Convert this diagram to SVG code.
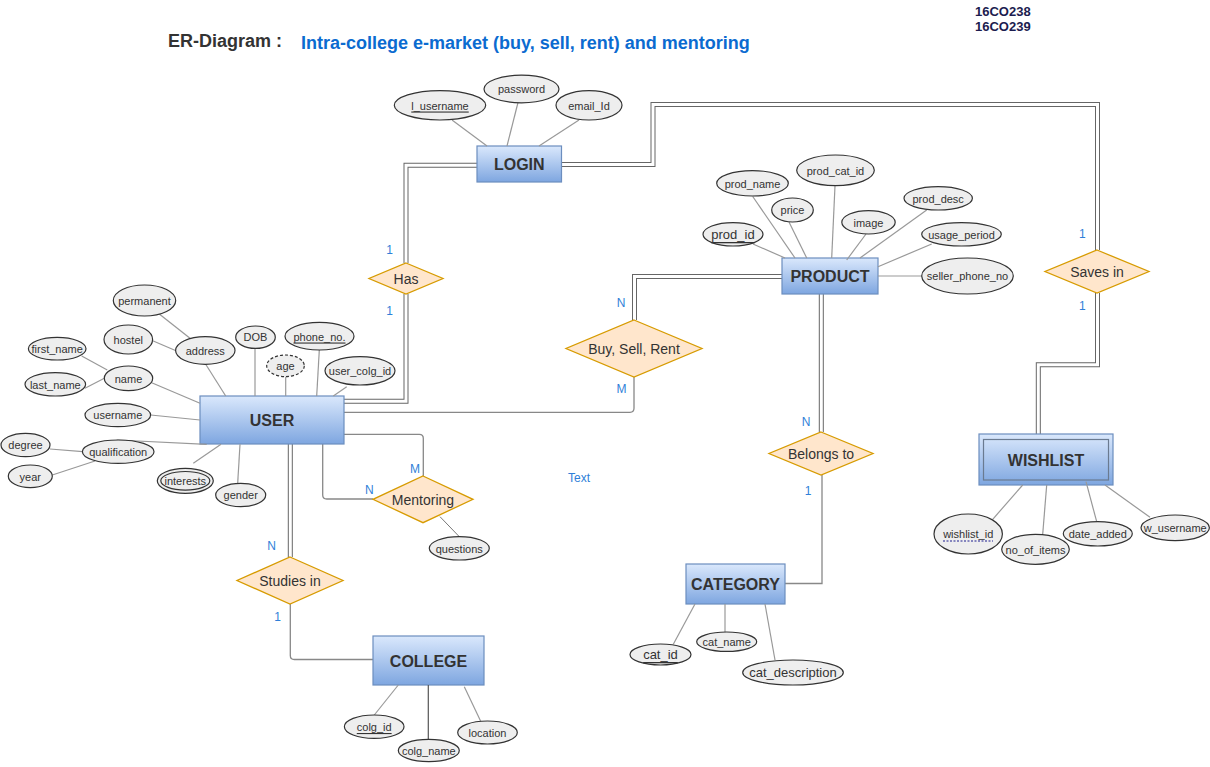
<svg xmlns="http://www.w3.org/2000/svg" width="1210" height="767" viewBox="0 0 1210 767">
<defs>
<linearGradient id="eg" x1="0" y1="0" x2="0" y2="1">
<stop offset="0" stop-color="#dae8fc"/>
<stop offset="1" stop-color="#7ea6e0"/>
</linearGradient>
<style>
text{font-family:"Liberation Sans",Arial,sans-serif;}
.ent rect{fill:url(#eg);stroke:#6c8ebf;stroke-width:1.2;}
.ent text{font-size:16px;font-weight:bold;fill:#333;text-anchor:middle;dominant-baseline:central;}
.rel polygon{fill:#ffe6cc;stroke:#d79b00;stroke-width:1.3;}
.rel text{font-size:14px;fill:#333;text-anchor:middle;dominant-baseline:central;}
.att ellipse{fill:#eeeeee;stroke:#333;stroke-width:1.2;}
.att text{font-size:11px;fill:#333;text-anchor:middle;dominant-baseline:central;}
.att line{stroke:#999;stroke-width:1.2;}
.big{font-size:13px !important;}
.u{text-decoration:underline;}
.c1{fill:none;stroke:#888;stroke-width:1.3;}
.d1{fill:none;stroke:#666;stroke-width:5;}
.d2{fill:none;stroke:#fff;stroke-width:3;}
.lbl{font-size:12px;fill:#2f7fd8;text-anchor:middle;dominant-baseline:central;}
</style>
</defs>
<rect width="1210" height="767" fill="#fff"/>

<g id="title">
<text x="168" y="47" font-size="18" font-weight="bold" fill="#333">ER-Diagram :</text>
<text x="301" y="49" font-size="18" font-weight="bold" fill="#0b6bd0">Intra-college e-market (buy, sell, rent) and mentoring</text>
<text x="975" y="15.5" font-size="13" font-weight="bold" fill="#1c1c4f">16CO238</text>
<text x="975" y="31" font-size="13" font-weight="bold" fill="#1c1c4f">16CO239</text>
</g>

<g id="connectors">
<!-- LOGIN - Has (double) -->
<path class="d1" d="M477,165.3 H406 V263"/>
<path class="d2" d="M477,165.3 H406 V263"/>
<!-- Has - USER (double) -->
<path class="d1" d="M406,294 V401.3 H344"/>
<path class="d2" d="M406,294 V401.3 H344"/>
<!-- USER - Buy,Sell,Rent -->
<path class="c1" d="M344,412.3 H630 Q634,412.3 634,408.3 V377"/>
<!-- Buy,Sell,Rent - PRODUCT (double) -->
<path class="d1" d="M634.5,320 V276.5 H782"/>
<path class="d2" d="M634.5,320 V276.5 H782"/>
<!-- PRODUCT - Belongs to (double) -->
<path class="d1" d="M821.3,294 V432"/>
<path class="d2" d="M821.3,294 V432"/>
<!-- Belongs to - CATEGORY -->
<path class="c1" d="M822,475 V583.5 H785"/>
<!-- LOGIN - Saves in (double) -->
<path class="d1" d="M561,164.5 H653 V104.5 H1097.5 V250"/>
<path class="d2" d="M561,164.5 H653 V104.5 H1097.5 V250"/>
<!-- Saves in - WISHLIST (double) -->
<path class="d1" d="M1097.5,293 V364.7 H1038.3 V434"/>
<path class="d2" d="M1097.5,293 V364.7 H1038.3 V434"/>
<!-- USER - Studies in (double) -->
<path class="d1" d="M290.3,444 V557"/>
<path class="d2" d="M290.3,444 V557"/>
<!-- Studies in - COLLEGE -->
<path class="c1" d="M290.3,604 V655.5 Q290.3,659.5 294.3,659.5 H373"/>
<!-- USER - Mentoring (M) -->
<path class="c1" d="M344,434.3 H419.3 Q423.3,434.3 423.3,438.3 V476"/>
<!-- USER - Mentoring (N) -->
<path class="c1" d="M322.7,444 V495 Q322.7,499 326.7,499 H373"/>
</g>

<g id="cardinalities">
<text class="lbl" x="389.5" y="250">1</text>
<text class="lbl" x="389.5" y="311">1</text>
<text class="lbl" x="621" y="303">N</text>
<text class="lbl" x="621.5" y="388.5">M</text>
<text class="lbl" x="806" y="422">N</text>
<text class="lbl" x="808" y="491">1</text>
<text class="lbl" x="1082.3" y="234">1</text>
<text class="lbl" x="1082.3" y="306">1</text>
<text class="lbl" x="271.7" y="546">N</text>
<text class="lbl" x="277.7" y="616.7">1</text>
<text class="lbl" x="415" y="469">M</text>
<text class="lbl" x="369.3" y="490">N</text>
<text class="lbl" x="579" y="478">Text</text>
</g>

<!-- Entities -->
<g id="LOGIN" class="ent"><rect x="477" y="146" width="84.5" height="36"/><text x="519.3" y="164.5">LOGIN</text></g>
<g id="PRODUCT" class="ent"><rect x="782" y="258" width="96" height="36"/><text x="830" y="276.5">PRODUCT</text></g>
<g id="USER" class="ent"><rect x="200" y="396" width="144" height="48"/><text x="272" y="420.5">USER</text></g>
<g id="WISHLIST" class="ent"><rect x="979" y="434" width="134" height="51"/><rect x="983.5" y="439.5" width="125" height="40.5" style="fill:none;stroke:#6a7a90;stroke-width:1.2"/><text x="1046" y="460">WISHLIST</text></g>
<g id="CATEGORY" class="ent"><rect x="686" y="564" width="99" height="40"/><text x="735.5" y="584.5">CATEGORY</text></g>
<g id="COLLEGE" class="ent"><rect x="373" y="636" width="111" height="49"/><text x="428.5" y="661">COLLEGE</text></g>

<!-- Relationships -->
<g id="Has" class="rel"><polygon points="406,263 443,278.5 406,294 369,278.5"/><text x="406" y="279">Has</text></g>
<g id="BuySellRent" class="rel"><polygon points="634,320 702,348.5 634,377 566,348.5"/><text x="634" y="349">Buy, Sell, Rent</text></g>
<g id="BelongsTo" class="rel"><polygon points="821,432 873,453.5 821,475 769,453.5"/><text x="821" y="454">Belongs to</text></g>
<g id="SavesIn" class="rel"><polygon points="1097,250 1149,271.5 1097,293 1045,271.5"/><text x="1097" y="272">Saves in</text></g>
<g id="Mentoring" class="rel"><polygon points="423,476 473,499.3 423,522.7 373,499.3"/><text x="423" y="500">Mentoring</text></g>
<g id="StudiesIn" class="rel"><polygon points="290,557 343,580.5 290,604 237,580.5"/><text x="290" y="581">Studies in</text></g>

<!-- LOGIN attributes -->
<g id="l_username" class="att"><line x1="452" y1="120" x2="487" y2="146"/><ellipse cx="440" cy="105.3" rx="45.7" ry="14.7"/><text class="u" x="440" y="105.5">l_username</text></g>
<g id="password" class="att"><line x1="518" y1="102.5" x2="507" y2="146"/><ellipse cx="521.5" cy="89" rx="37.5" ry="13.8"/><text x="521.5" y="89">password</text></g>
<g id="email_Id" class="att"><line x1="579" y1="120" x2="539" y2="146"/><ellipse cx="589" cy="105.3" rx="33" ry="14.7"/><text x="589" y="105.5">email_Id</text></g>

<!-- PRODUCT attributes -->
<g id="prod_id" class="att"><line x1="753" y1="244" x2="785" y2="258"/><ellipse cx="733" cy="234.3" rx="30" ry="11.7"/><text class="u big" x="733" y="234.5">prod_id</text></g>
<g id="prod_name" class="att"><line x1="752.7" y1="196.5" x2="795" y2="258"/><ellipse cx="752.5" cy="183.3" rx="35.8" ry="12.7"/><text x="752.5" y="183.5">prod_name</text></g>
<g id="price" class="att"><line x1="789" y1="222" x2="806.7" y2="258"/><ellipse cx="792.5" cy="210" rx="20.8" ry="12"/><text x="792.5" y="210">price</text></g>
<g id="prod_cat_id" class="att"><line x1="835" y1="185.7" x2="831.7" y2="258"/><ellipse cx="835.5" cy="170.3" rx="38.8" ry="15.3"/><text x="835.5" y="170.5">prod_cat_id</text></g>
<g id="image" class="att"><line x1="866" y1="234" x2="846.7" y2="260"/><ellipse cx="868.5" cy="222.3" rx="26.7" ry="11.7"/><text x="868.5" y="222.5">image</text></g>
<g id="prod_desc" class="att"><line x1="926.7" y1="210" x2="860" y2="258"/><ellipse cx="938.2" cy="198.3" rx="34.2" ry="11.7"/><text x="938.2" y="198.5">prod_desc</text></g>
<g id="usage_period" class="att"><line x1="931.7" y1="244" x2="878" y2="266.7"/><ellipse cx="961.5" cy="234.3" rx="39.8" ry="11.7"/><text x="961.5" y="234.5">usage_period</text></g>
<g id="seller_phone_no" class="att"><line x1="878" y1="276" x2="921.7" y2="276"/><ellipse cx="967.5" cy="276" rx="45.8" ry="18"/><text x="967.5" y="276">seller_phone_no</text></g>

<!-- USER attributes -->
<g id="permanent" class="att"><line x1="158.3" y1="313.3" x2="190" y2="338.3"/><ellipse cx="144.5" cy="300.5" rx="31.2" ry="15.5"/><text x="144.5" y="300.5">permanent</text></g>
<g id="hostel" class="att"><line x1="152.7" y1="340.7" x2="176" y2="350.7"/><ellipse cx="128.3" cy="339.5" rx="24.3" ry="14.5"/><text x="128.3" y="339.5">hostel</text></g>
<g id="address" class="att"><line x1="205.7" y1="364.3" x2="225.7" y2="396"/><ellipse cx="205.3" cy="350.5" rx="29.7" ry="13.8"/><text x="205.3" y="350.5">address</text></g>
<g id="DOB" class="att"><line x1="255" y1="348.3" x2="255" y2="396"/><ellipse cx="255.5" cy="337.2" rx="19.8" ry="11.2"/><text x="255.5" y="337.2">DOB</text></g>
<g id="phone_no" class="att"><line x1="319.3" y1="350" x2="316.7" y2="396"/><ellipse cx="319.5" cy="336.2" rx="34.5" ry="13.8"/><text class="u" x="319.5" y="336.5">phone_no.</text></g>
<g id="age" class="att"><line x1="285.7" y1="376.7" x2="285.7" y2="396"/><ellipse cx="285.5" cy="365.8" rx="18.8" ry="10.8" style="stroke-dasharray:3 2"/><text x="285.5" y="366">age</text></g>
<g id="user_colg_id" class="att"><line x1="346.7" y1="386.7" x2="333.3" y2="396"/><ellipse cx="360" cy="370.8" rx="35" ry="14.2"/><text x="360" y="371">user_colg_id</text></g>
<g id="first_name" class="att"><line x1="81.7" y1="356" x2="107.3" y2="370"/><ellipse cx="57.2" cy="348.7" rx="28.8" ry="11.3"/><text x="57.2" y="349">first_name</text></g>
<g id="last_name" class="att"><line x1="85" y1="388.3" x2="104.3" y2="378.3"/><ellipse cx="55.3" cy="384.3" rx="30.3" ry="11.7"/><text x="55.3" y="384.5">last_name</text></g>
<g id="name" class="att"><line x1="151.7" y1="382.7" x2="200" y2="403.3"/><ellipse cx="128.5" cy="378.3" rx="24.2" ry="12.3"/><text x="128.5" y="378.5">name</text></g>
<g id="username" class="att"><line x1="150.7" y1="415" x2="200" y2="420"/><ellipse cx="117.8" cy="415" rx="32.8" ry="11.7"/><text x="117.8" y="415">username</text></g>
<g id="degree" class="att"><line x1="50" y1="449" x2="82.7" y2="451.7"/><ellipse cx="25.5" cy="445" rx="24.5" ry="11.7"/><text x="25.5" y="445">degree</text></g>
<g id="year" class="att"><line x1="52.3" y1="475" x2="95" y2="461"/><ellipse cx="30.3" cy="476.3" rx="22" ry="11.3"/><text x="30.3" y="476.5">year</text></g>
<g id="qualification" class="att"><line x1="116.7" y1="440" x2="206.7" y2="444.3"/><ellipse cx="118.2" cy="451.7" rx="35.8" ry="11.7"/><text x="118.2" y="452">qualification</text></g>
<g id="interests" class="att"><line x1="193.3" y1="463.3" x2="221" y2="444.3"/><ellipse cx="185.3" cy="480.8" rx="28" ry="12.5"/><ellipse cx="185.3" cy="480.8" rx="24.5" ry="9.3"/><text x="185.3" y="480.8">interests</text></g>
<g id="gender" class="att"><line x1="237.7" y1="483.3" x2="240" y2="444.3"/><ellipse cx="240.7" cy="495" rx="25" ry="11.7"/><text x="240.7" y="495">gender</text></g>

<!-- WISHLIST attributes -->
<g id="wishlist_id" class="att"><line x1="1022.7" y1="485" x2="992.7" y2="519.3"/><ellipse cx="968.2" cy="534" rx="34.2" ry="20"/><text x="968.2" y="534">wishlist_id</text><line x1="943" y1="541" x2="993" y2="541" style="stroke:#1c1c8f;stroke-width:1;stroke-dasharray:2 1.5"/></g>
<g id="no_of_items" class="att"><line x1="1046.7" y1="485" x2="1042.7" y2="534.3"/><ellipse cx="1035.5" cy="549.3" rx="33.8" ry="15"/><text x="1035.5" y="549.5">no_of_items</text></g>
<g id="date_added" class="att"><line x1="1086" y1="481.7" x2="1096.7" y2="521.7"/><ellipse cx="1097.8" cy="533.8" rx="34.5" ry="12.2"/><text x="1097.8" y="534">date_added</text></g>
<g id="w_username" class="att"><line x1="1105" y1="485" x2="1150" y2="517.3"/><ellipse cx="1175.2" cy="527.8" rx="34.2" ry="12.8"/><text x="1175.2" y="528">w_username</text></g>

<!-- CATEGORY attributes -->
<g id="cat_id" class="att"><line x1="695" y1="604" x2="673.3" y2="644.3"/><ellipse cx="660.5" cy="654.5" rx="30.5" ry="10.5"/><text class="u big" x="660.5" y="654.5">cat_id</text></g>
<g id="cat_name" class="att"><line x1="725" y1="604" x2="725" y2="632"/><ellipse cx="726.7" cy="641.7" rx="30" ry="9.7"/><text x="726.7" y="642">cat_name</text></g>
<g id="cat_description" class="att"><line x1="765" y1="604" x2="775" y2="660"/><ellipse cx="793" cy="672.5" rx="50.3" ry="12.5"/><text class="big" x="793" y="672.5">cat_description</text></g>

<!-- COLLEGE attributes -->
<g id="colg_id" class="att"><line x1="398.3" y1="685" x2="374.3" y2="715"/><ellipse cx="374.2" cy="726.7" rx="29.8" ry="11.7"/><text class="u" x="374.2" y="727">colg_id</text></g>
<g id="colg_name" class="att"><line x1="428.3" y1="685" x2="428.3" y2="739.3" style="stroke:#555"/><ellipse cx="428.8" cy="750.5" rx="30.5" ry="11.2"/><text x="428.8" y="750.5">colg_name</text></g>
<g id="location" class="att"><line x1="464.3" y1="686.7" x2="480.7" y2="721.3"/><ellipse cx="487.5" cy="732.5" rx="29.8" ry="11.5"/><text x="487.5" y="732.5">location</text></g>

<!-- Mentoring attribute -->
<g id="questions" class="att"><line x1="440" y1="516.7" x2="459.3" y2="536.7" style="stroke:#555;stroke-width:0.8"/><ellipse cx="459.3" cy="548.3" rx="30" ry="11.7"/><text x="459.3" y="548.5">questions</text></g>
</svg>
